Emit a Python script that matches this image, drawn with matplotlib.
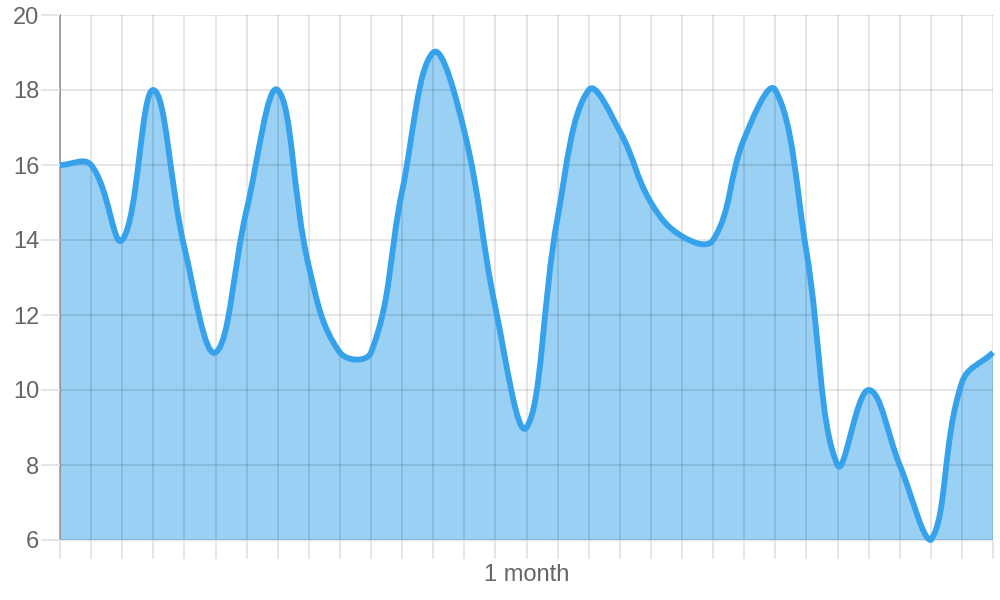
import numpy as np
import matplotlib
matplotlib.use("Agg")
import matplotlib.pyplot as plt
from matplotlib.path import Path
from matplotlib.patches import PathPatch

plt.rcParams["font.family"] = ["Liberation Sans", "DejaVu Sans"]

# one point per day, label only in the middle of the month
days = np.arange(31)
x_labels = [""] * 15 + ["1 month"] + [""] * 15
values = [16, 16, 14, 18, 13.8, 11, 14.8, 18, 13.3, 11, 11, 15.3, 19, 16.9, 12.2,
          9, 14.6, 18, 16.9, 15, 14.1, 14, 16.7, 18, 13.7, 8, 10, 8, 6, 10.2, 11]
y_ticks = [6, 8, 10, 12, 14, 16, 18, 20]

LINE = (54 / 255, 162 / 255, 235 / 255)
FILL = (54 / 255, 162 / 255, 235 / 255, 0.5)
TICK = "#e6e6e6"
TEXT = "#666666"
TENSION = 0.4


def spline_path(ax, xs, ys, tension):
    """Bezier path through the points, control points like Chart.js splineCurve."""
    pts = ax.transData.transform(np.column_stack([xs, ys]))
    bbox = ax.get_window_extent()
    n = len(pts)
    prev_cp, next_cp = [], []
    for i in range(n):
        cur = pts[i]
        prv = pts[i - 1] if i > 0 else cur
        nxt = pts[i + 1] if i < n - 1 else cur
        d01 = np.hypot(*(cur - prv))
        d12 = np.hypot(*(nxt - cur))
        tot = d01 + d12
        s01 = d01 / tot if tot else 0
        s12 = d12 / tot if tot else 0
        a = cur - tension * s01 * (nxt - prv)
        b = cur + tension * s12 * (nxt - prv)
        # keep control points inside the plot area
        for cp in (a, b):
            cp[0] = min(max(cp[0], bbox.x0), bbox.x1)
            cp[1] = min(max(cp[1], bbox.y0), bbox.y1)
        prev_cp.append(a)
        next_cp.append(b)

    verts = [pts[0]]
    codes = [Path.MOVETO]
    for i in range(1, n):
        verts += [next_cp[i - 1], prev_cp[i], pts[i]]
        codes += [Path.CURVE4] * 3
    inv = ax.transData.inverted()
    return inv.transform(np.array(verts)), codes


fig = plt.figure(figsize=(10, 6), dpi=100)
ax = fig.add_axes([0.06, 0.10, 0.933, 0.875])
ax.set_xlim(0, 30)
ax.set_ylim(6, 20)

verts, codes = spline_path(ax, days, values, TENSION)

# filled area down to the bottom of the scale
fill_verts = np.vstack([verts, [[days[-1], 6], [days[0], 6], verts[0]]])
fill_codes = codes + [Path.LINETO, Path.LINETO, Path.CLOSEPOLY]
ax.add_patch(PathPatch(Path(fill_verts, fill_codes), facecolor=FILL,
                       edgecolor="none", zorder=1))
ax.add_patch(PathPatch(Path(verts, codes), facecolor="none", edgecolor=LINE,
                       linewidth=4.2, capstyle="butt", joinstyle="round",
                       zorder=3, clip_on=False))

ax.set_xticks(days)
ax.set_xticklabels(x_labels)
ax.set_yticks(y_ticks)
ax.set_axisbelow(False)
# translucent grid on top of the fill, below the line
ax.grid(True, color="black", alpha=0.1, linewidth=1.4)

ax.tick_params(axis="both", colors=TICK, labelcolor=TEXT, labelsize=17,
               length=14, width=1.4)
ax.tick_params(axis="y", pad=1)
ax.tick_params(axis="x", pad=3)

for side in ("top", "right"):
    ax.spines[side].set_visible(False)
ax.spines["bottom"].set_color(TICK)
ax.spines["bottom"].set_zorder(0.5)
ax.spines["left"].set_color("#aaaaaa")
ax.spines["left"].set_linewidth(1.4)
ax.get_xticklines()[0].set_color("#aaaaaa")

fig.savefig("out.png", dpi=100)
